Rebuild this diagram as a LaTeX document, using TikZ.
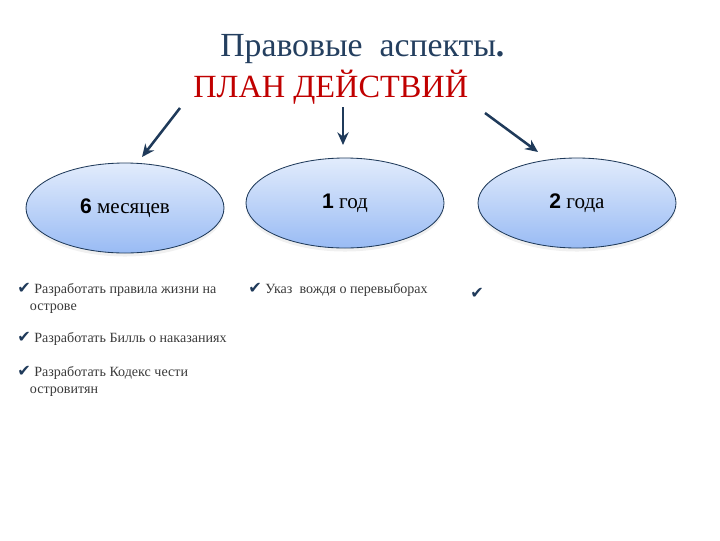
\documentclass[tikz,border=0pt]{standalone}
\usepackage{fontspec}
\setmainfont{Liberation Serif}
\newfontfamily\checkfont{DejaVu Sans}
\newfontfamily\digitfont{Liberation Sans}
\usetikzlibrary{arrows.meta}
\usetikzlibrary{shadows}
\usetikzlibrary{shapes.geometric}

\definecolor{navy}{HTML}{1F3A5A}
\definecolor{titleblue}{HTML}{243F5F}
\definecolor{planred}{HTML}{C00000}
\definecolor{itemgray}{HTML}{3A3A3A}
\definecolor{ovaltop}{HTML}{E2ECFC}
\definecolor{ovalbot}{HTML}{99BBF4}

\newcommand{\chk}{{\color{navy}\checkfont\fontsize{11.5pt}{12pt}\selectfont ✔}}

\begin{document}
\begin{tikzpicture}[>={Stealth[length=9pt, width=8pt]}, x=0.025cm, y=-0.025cm,
    oval/.style = {ellipse, draw=navy, line width=0.6pt, top color=ovaltop, bottom color=ovalbot,
                   minimum width=198*0.025cm, minimum height=90*0.025cm, inner sep=0pt,
                   font=\fontsize{15pt}{18pt}\selectfont,
                   drop shadow={opacity=0.12, shadow xshift=0pt, shadow yshift=-2.5pt}},
    arr/.style  = {->, draw=navy, line width=1.8pt},
    item/.style = {anchor=base west, inner sep=0pt, align=left, text=itemgray,
                   font=\fontsize{10pt}{12pt}\selectfont}]

    \useasboundingbox (0,0) rectangle (720,540);

    % titles
    \node[anchor=base west, inner sep=0pt, text=titleblue, font=\fontsize{24pt}{28pt}\selectfont]
        (title) at (220,56) {Правовые\ \ аспекты\textbf{.}};
    \node[anchor=base west, inner sep=0pt, text=planred, font=\fontsize{23pt}{28pt}\selectfont]
        (plan) at (193,97) {ПЛАН ДЕЙСТВИЙ};

    % periods
    \node[oval] (six) at (125,208) {{\digitfont\bfseries 6} месяцев};
    \node[oval] (one) at (345,203) {{\digitfont\bfseries 1} год};
    \node[oval] (two) at (577,203) {{\digitfont\bfseries 2} года};

    % arrows
    \coordinate (s1) at (180,108);
    \coordinate (e1) at (142,157);
    \coordinate (s2) at (343,107);
    \coordinate (e2) at (343,145);
    \coordinate (s3) at (485,113);
    \coordinate (e3) at (538,152);
    \draw[arr] (s1) -- (e1);
    \draw[arr] (s2) -- (e2);
    \draw[arr] (s3) -- (e3);

    % tasks (base = last line)
    \node[item] (b1) at (17,310) {\chk\ Разработать правила жизни на\\\hspace*{9pt}острове};
    \node[item] (b2) at (17,342) {\chk\ Разработать Билль о наказаниях};
    \node[item] (b3) at (17,393) {\chk\ Разработать Кодекс чести\\\hspace*{9pt}островитян};
    \node[item] (b4) at (248,293) {\chk\ Указ\ \ вождя о перевыборах};
    \node[item] (b5) at (470,298) {\chk};

\end{tikzpicture}
\end{document}
